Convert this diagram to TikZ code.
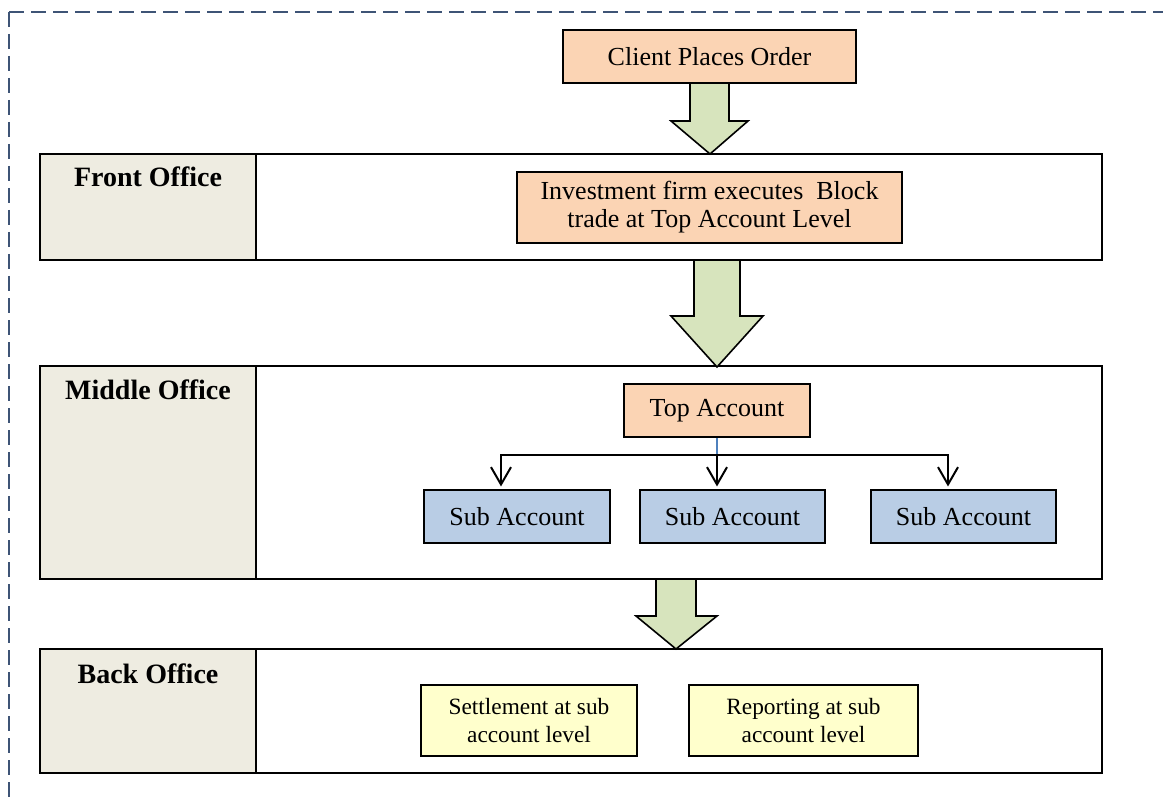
\documentclass[tikz,border=0pt]{standalone}
\usepackage{fontspec}
\setmainfont{Liberation Serif}
\usetikzlibrary{arrows.meta}
\definecolor{orangefill}{HTML}{FBD4B4}
\definecolor{greenfill}{HTML}{D7E4BD}
\definecolor{bluefill}{HTML}{B9CDE5}
\definecolor{yellowfill}{HTML}{FFFFCC}
\definecolor{labfill}{HTML}{EEECE1}
\definecolor{frameblue}{HTML}{3E5476}
\definecolor{linkblue}{HTML}{4F81BD}
\begin{document}
\begin{tikzpicture}[x=0.75pt,y=-0.75pt,
  sz/.style 2 args={minimum width=#1*0.75pt, minimum height=#2*0.75pt},
  box/.style={draw=black, line width=1.3pt, inner sep=0pt, align=center, font=\fontsize{19.5}{21}\selectfont},
  smallbox/.style={box, font=\fontsize{17.5}{20.5}\selectfont},
  band/.style={draw=black, line width=1.5pt, inner sep=0pt},
  labcell/.style={band, fill=labfill},
  lab/.style={font=\fontsize{21}{24}\selectfont\bfseries, anchor=base},
  blockarrow/.style={draw=black, line width=1.2pt, fill=greenfill, line join=miter},
  conn/.style={line width=1.5pt, draw=black},
  arr/.style={conn, -{Straight Barb[length=13pt,width=15pt]}, shorten >=2pt},
  frame/.style={draw=frameblue, line width=1.9pt, dash pattern=on 11pt off 5.5pt}
]
\useasboundingbox (0,0) rectangle (1163,802);
\draw[frame] (9,12) -- (9,820);
\draw[frame] (9,12) -- (1180,12);

% bands
\node[band, sz={1062}{106}] (fo) at (571,207) {};
\node[labcell, sz={216}{106}] (focell) at (148,207) {};
\node[lab] (folab) at (148,187) {Front Office};

\node[band, sz={1062}{213}] (mo) at (571,472.5) {};
\node[labcell, sz={216}{213}] (mocell) at (148,472.5) {};
\node[lab] (molab) at (148,399) {Middle Office};

\node[band, sz={1062}{124}] (bo) at (571,711) {};
\node[labcell, sz={216}{124}] (bocell) at (148,711) {};
\node[lab] (bolab) at (148,683) {Back Office};

% boxes
\node[box, fill=orangefill, sz={293}{53}] (client) at (709.5,56.5) {Client Places Order};
\node[box, fill=orangefill, sz={385}{71}] (invest) at (709.5,207.5) {Investment firm executes\ \ Block\\trade at Top Account Level};
\node[box, fill=orangefill, sz={186}{53}] (top) at (717,410.5) {Top Account};
\node[box, fill=bluefill, sz={186}{53}] (sub1) at (517,516.5) {Sub Account};
\node[box, fill=bluefill, sz={185}{53}] (sub2) at (732.5,516.5) {Sub Account};
\node[box, fill=bluefill, sz={185}{53}] (sub3) at (963.5,516.5) {Sub Account};
\node[smallbox, fill=yellowfill, sz={216}{71}] (settle) at (529,720.5) {Settlement at sub\\account level};
\node[smallbox, fill=yellowfill, sz={229}{71}] (report) at (803.5,720.5) {Reporting at sub\\account level};

% block arrows
\draw[blockarrow] (690,83) -- (690,121) -- (671,121) -- (710,154) -- (748,121) -- (729,121) -- (729,83) -- cycle;
\draw[blockarrow] (694,260) -- (694,316) -- (671,316) -- (717,367) -- (763,316) -- (740,316) -- (740,260) -- cycle;
\draw[blockarrow] (656,579) -- (656,616) -- (636,616) -- (676,649) -- (717,616) -- (696,616) -- (696,579) -- cycle;

% connectors
\coordinate (j) at (717,455);
\coordinate (jl) at (501,455);
\coordinate (jr) at (948,455);
\draw[draw=linkblue, line width=1pt] (top.south -| j) -- (j);
\draw[arr] (j) -| (jl |- sub1.north);
\draw[arr] (j) -| (jr |- sub3.north);
\draw[arr] (j) -- (j |- sub2.north);
\end{tikzpicture}
\end{document}
